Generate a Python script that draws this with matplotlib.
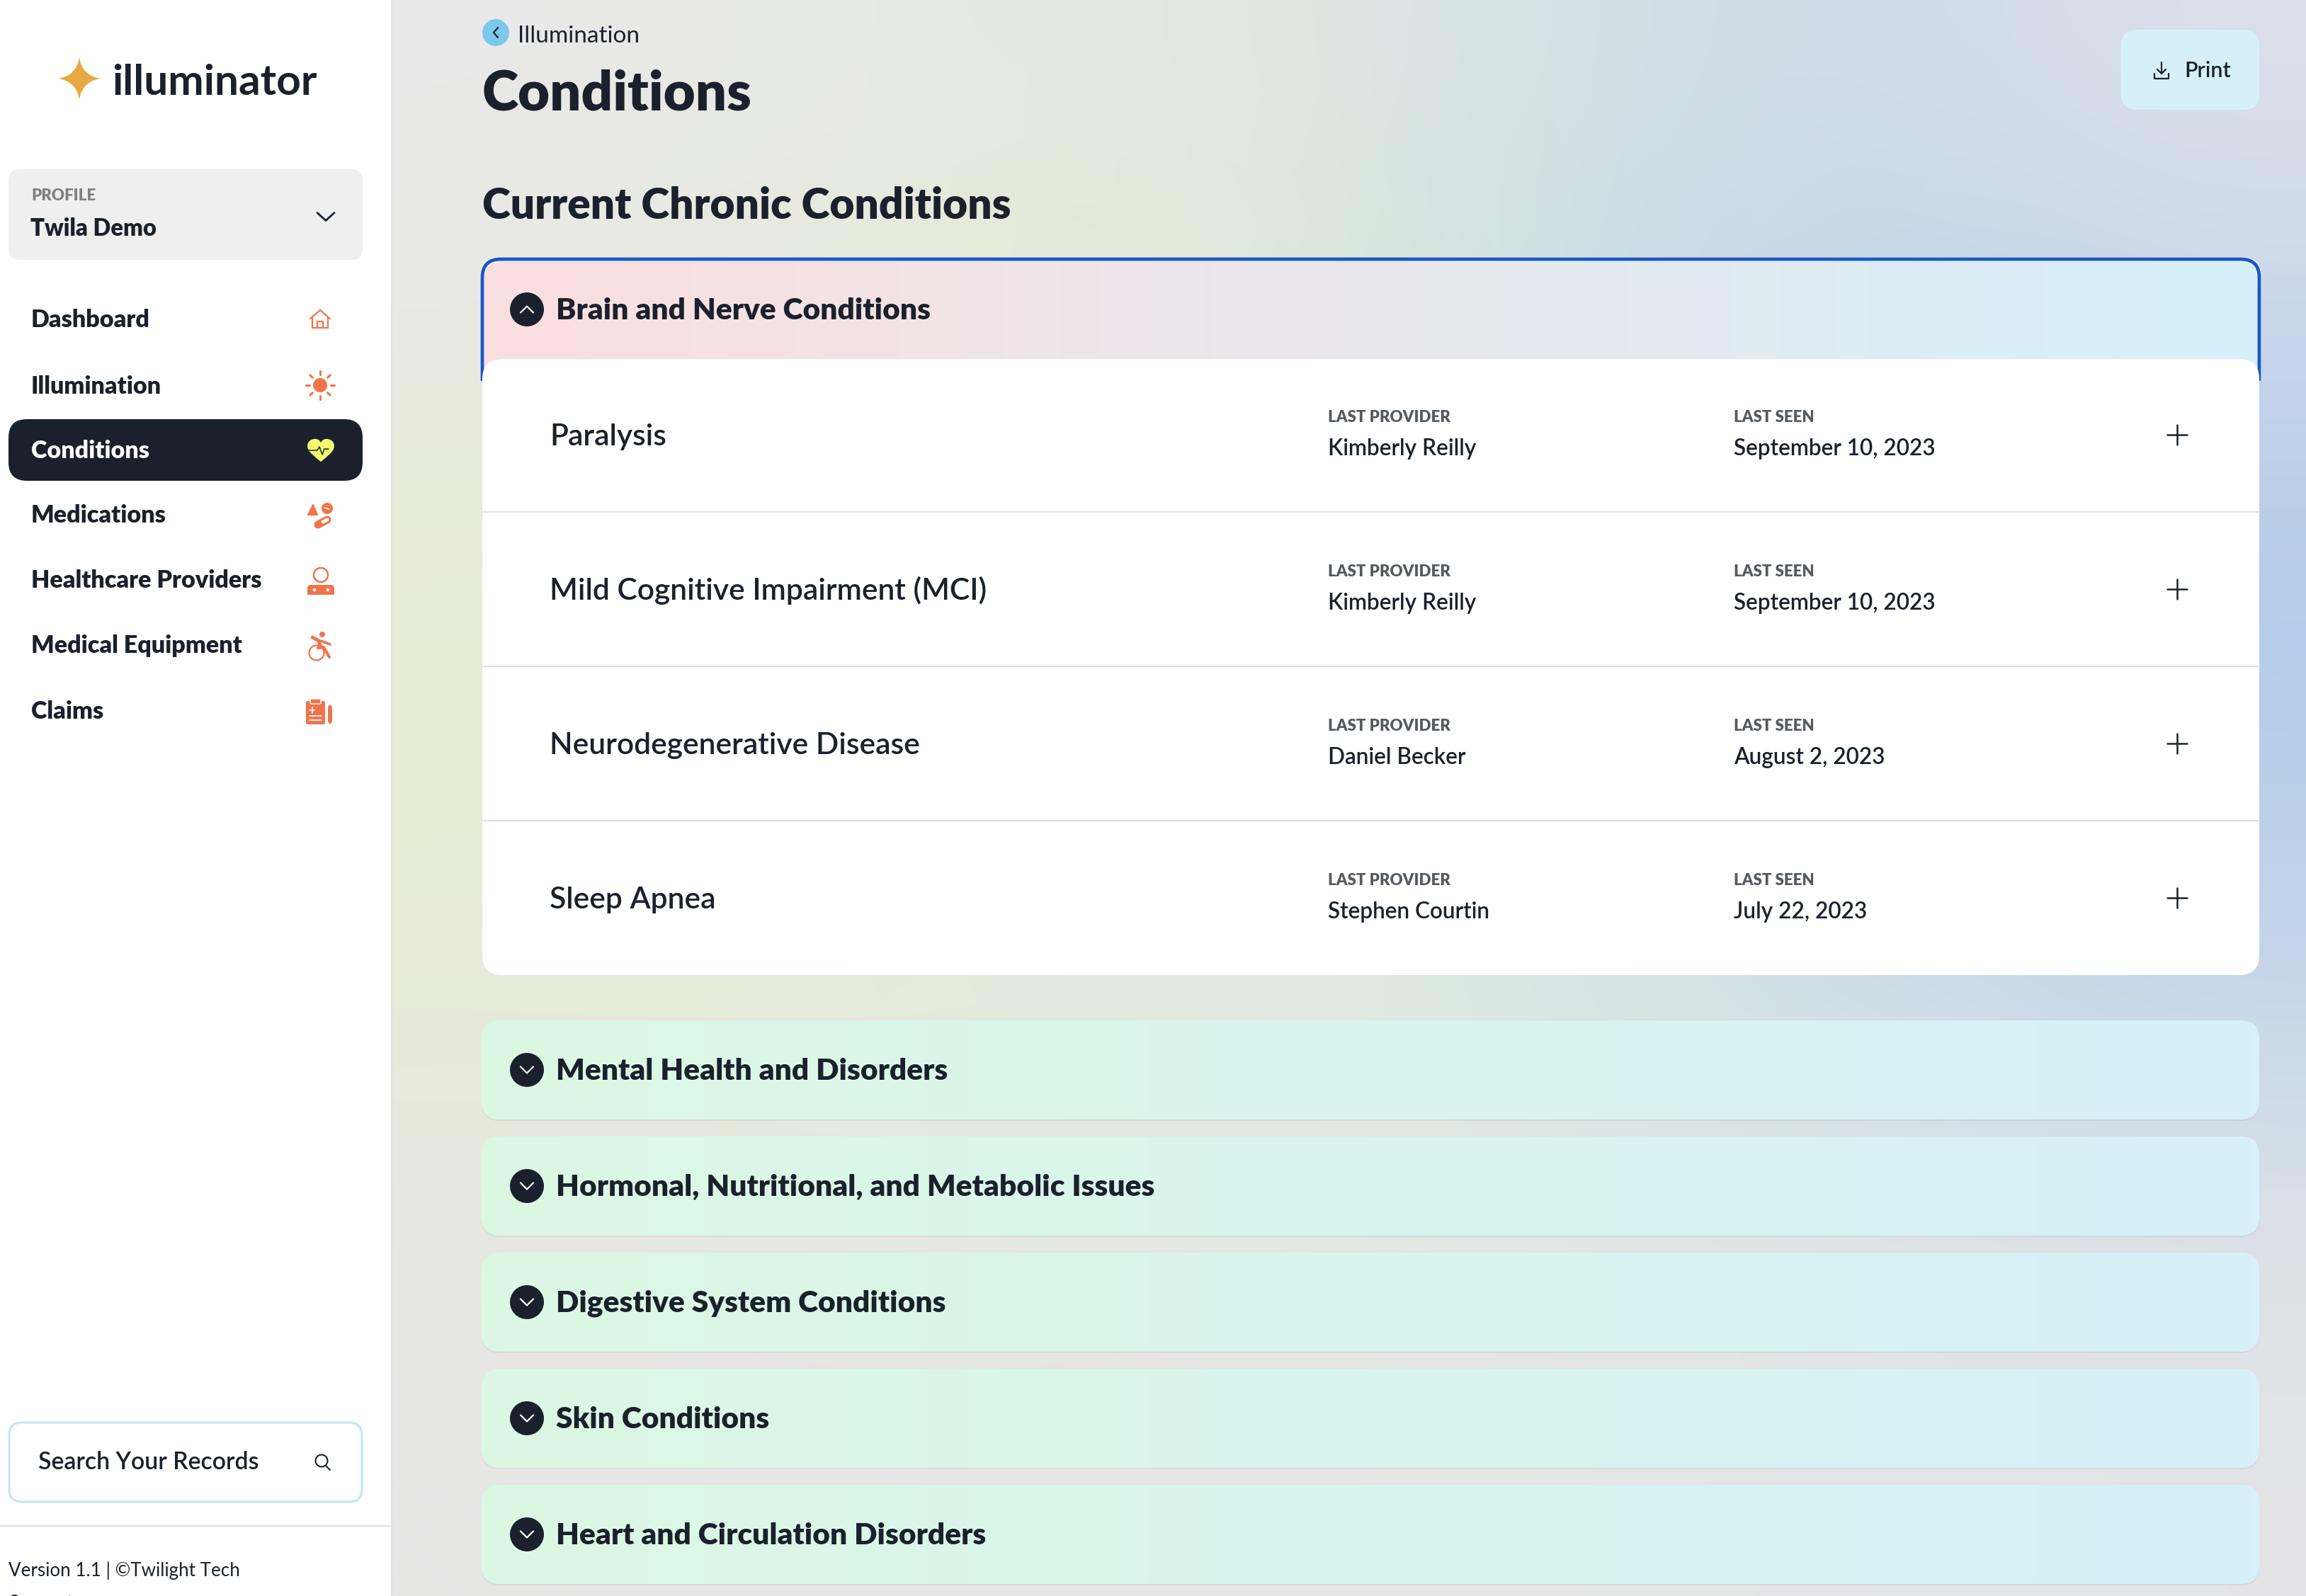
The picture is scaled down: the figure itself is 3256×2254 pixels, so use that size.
import numpy as np
import matplotlib
matplotlib.use('Agg')
import matplotlib.pyplot as plt
from matplotlib.patches import FancyBboxPatch, Circle, Polygon, PathPatch, Rectangle
from matplotlib.path import Path
from matplotlib.colors import to_rgb

plt.rcParams['font.family'] = ['Lato', 'DejaVu Sans']

W, H = 3256, 2254
DARK = '#1a212c'
ORANGE = '#f0744a'

nav_items = ['Dashboard', 'Illumination', 'Conditions', 'Medications',
             'Healthcare Providers', 'Medical Equipment', 'Claims']
nav_baselines = [462, 556, 647, 738, 830, 922, 1015]

conditions = ['Paralysis', 'Mild Cognitive Impairment (MCI)',
              'Neurodegenerative Disease', 'Sleep Apnea']
providers = ['Kimberly Reilly', 'Kimberly Reilly', 'Daniel Becker', 'Stephen Courtin']
last_seen = ['September 10, 2023', 'September 10, 2023', 'August 2, 2023', 'July 22, 2023']

sections = ['Mental Health and Disorders', 'Hormonal, Nutritional, and Metabolic Issues',
            'Digestive System Conditions', 'Skin Conditions',
            'Heart and Circulation Disorders']
section_tops = [1441, 1605, 1769, 1933, 2097]

# page background colours, coarse grid
bg_colors = [
    ['#e9e9e9', '#e8e9e6', '#e5e9df', '#dde6e2', '#d2dfe5', '#d0dce9', '#dbe0ea'],
    ['#e8e9e2', '#e6ead8', '#e6edd0', '#d8e8dc', '#c9dde5', '#bfd3ea', '#c8d6ea'],
    ['#e6ebd5', '#e6edd2', '#e2ecd6', '#d8e8df', '#cadfe6', '#b9d0e9', '#b4cbeb'],
    ['#e6ecd3', '#e6ecd6', '#e2ebdc', '#dbe9e0', '#d0e2e4', '#c0d6e8', '#b8ceea'],
    ['#e7ead9', '#e6eadb', '#e3eadf', '#dfe9e1', '#d9e6e3', '#d0dfe7', '#cad9e9'],
    ['#e6e7e2', '#e6e8e2', '#e5e8e3', '#e3e7e4', '#e1e6e5', '#dfe4e7', '#dde2e7'],
    ['#e6e6e6', '#e6e6e6', '#e6e6e6', '#e6e6e6', '#e5e5e6', '#e4e5e6', '#e4e4e6'],
]


def rgb_grid(rows):
    return np.array([[to_rgb(c) for c in row] for row in rows])


def box(x0, y0, x1, y1, r, **kw):
    return FancyBboxPatch((x0 + r, y0 + r), x1 - x0 - 2 * r, y1 - y0 - 2 * r,
                          boxstyle='round,pad=%d,rounding_size=%d' % (r, r), **kw)


def txt(x, y, s, size, weight='normal', color=DARK, **kw):
    return ax.text(x, y, s, fontsize=size, fontweight=weight, color=color, va='baseline', **kw)


def line(xs, ys, color=DARK, lw=2.0, z=5):
    ax.plot(xs, ys, color=color, lw=lw, zorder=z, solid_capstyle='round', solid_joinstyle='round')


def grad_box(x0, y0, x1, y1, r, c0, c1, z=2):
    p = box(x0, y0, x1, y1, r, fc='none', ec='none', zorder=z)
    ax.add_patch(p)
    ramp = np.linspace(to_rgb(c0), to_rgb(c1), 256)[np.newaxis, :, :]
    im = ax.imshow(ramp, extent=(x0, x1, y1, y0), aspect='auto', zorder=z)
    im.set_clip_path(p)


def chevron(cx, cy, up=False, color='white', w=9, h=9, lw=1.6):
    d = -h if up else h
    line([cx - w, cx, cx + w], [cy - d / 2, cy + d / 2, cy - d / 2], color, lw, 6)


def star(cx, cy, r):
    k = 0.13 * r
    verts = [(cx, cy - r), (cx + k, cy - k), (cx + r, cy), (cx + k, cy + k), (cx, cy + r),
             (cx - k, cy + k), (cx - r, cy), (cx - k, cy - k), (cx, cy - r)]
    codes = [Path.MOVETO] + [Path.CURVE3] * 8
    ax.add_patch(PathPatch(Path(verts, codes), fc='#e8a843', ec='none', zorder=5))


def icon_house(cx, cy):
    line([cx - 14, cx, cx + 14], [cy - 1, cy - 13, cy - 1], ORANGE, 1.6)
    line([cx - 11, cx - 11, cx + 11, cx + 11], [cy - 3, cy + 12, cy + 12, cy - 3], ORANGE, 1.6)
    line([cx - 4, cx - 4, cx + 4, cx + 4], [cy + 12, cy + 3, cy + 3, cy + 12], ORANGE, 1.6)


def icon_sun(cx, cy):
    ax.add_patch(Circle((cx, cy), 10, fc=ORANGE, ec='none', zorder=5))
    for a in np.arange(8) * np.pi / 4:
        line([cx + 15 * np.cos(a), cx + 20 * np.cos(a)],
             [cy + 15 * np.sin(a), cy + 20 * np.sin(a)], ORANGE, 2.2)


def icon_heart(cx, cy):
    sx, sy = 18, 17
    half = [(-0.5, 0.5), (-1.05, 0.1), (-1.05, -0.35), (-1.05, -0.75), (-0.75, -0.95),
            (-0.45, -0.95), (-0.25, -0.95), (-0.1, -0.85), (0, -0.65)]
    other = [(-a, b) for a, b in half[-2::-1]] + [(0, 0.95)]
    pts = [(0, 0.95)] + half + other
    verts = [(cx + a * sx, cy + b * sy) for a, b in pts]
    codes = [Path.MOVETO] + [Path.CURVE4] * (len(pts) - 1)
    ax.add_patch(PathPatch(Path(verts, codes), fc='#f5f96e', ec='none', zorder=5))
    line([cx - 20, cx - 5, cx - 2, cx + 2, cx + 5, cx + 11],
         [cy, cy, cy - 5, cy + 6, cy - 2, cy - 2], DARK, 1.1, 6)


def icon_pills(cx, cy):
    ax.add_patch(Polygon([(cx - 17, cy - 1), (cx - 10, cy - 15), (cx - 4, cy - 1)],
                         fc=ORANGE, ec=ORANGE, lw=1.5, joinstyle='round', zorder=5))
    ax.add_patch(Circle((cx + 10, cy - 10), 8, fc=ORANGE, ec='none', zorder=5))
    line([cx + 6, cx + 13], [cy - 11, cy - 9], 'white', 1.2, 6)
    line([cx - 3, cx + 10], [cy + 13, cy + 6], ORANGE, 8)
    line([cx + 4, cx + 10], [cy + 9, cy + 6], 'white', 3.5, 6)


def icon_doctor(cx, cy):
    ax.add_patch(Circle((cx + 1, cy - 8), 10, fc='white', ec=ORANGE, lw=1.8, zorder=5))
    ax.add_patch(box(cx - 18, cy + 6, cx + 20, cy + 20, 5, fc=ORANGE, ec='none', zorder=5))
    ax.add_patch(Rectangle((cx - 18, cy + 14), 38, 6, fc=ORANGE, ec='none', zorder=5))
    ax.add_patch(Circle((cx - 8, cy + 13), 2.2, fc='white', ec='none', zorder=6))
    ax.add_patch(Circle((cx + 11, cy + 13), 2.2, fc='white', ec='none', zorder=6))


def icon_wheelchair(cx, cy):
    ax.add_patch(Circle((cx - 5, cy + 10), 10.5, fc='none', ec=ORANGE, lw=1.6, zorder=5))
    ax.add_patch(Circle((cx + 3, cy - 16), 4, fc=ORANGE, ec='none', zorder=5))
    line([cx - 11, cx - 2, cx + 1], [cy - 12, cy - 7, cy + 2], ORANGE, 3.5)
    line([cx + 1, cx + 14], [cy - 7, cy - 2], ORANGE, 2.5)
    line([cx - 3, cx + 5, cx + 13], [cy + 3, cy + 2, cy + 16], ORANGE, 3)


def icon_clipboard(cx, cy):
    ax.add_patch(box(cx - 20, cy - 16, cx + 7, cy + 17, 3, fc=ORANGE, ec='none', zorder=5))
    ax.add_patch(box(cx - 14, cy - 19, cx + 1, cy - 12, 2, fc=ORANGE, ec='white', lw=1, zorder=6))
    line([cx - 15, cx - 8], [cy - 3, cy - 3], 'white', 1.2, 6)
    line([cx - 11.5, cx - 11.5], [cy - 7, cy + 1], 'white', 1.2, 6)
    line([cx - 15, cx + 2], [cy + 5, cy + 5], 'white', 1.2, 6)
    line([cx - 15, cx + 2], [cy + 11, cy + 11], 'white', 1.2, 6)
    ax.add_patch(Polygon([(cx + 11, cy - 5), (cx + 17, cy - 5), (cx + 17, cy + 13),
                          (cx + 14, cy + 17), (cx + 11, cy + 13)], fc=ORANGE, ec='none', zorder=5))
    ax.add_patch(Circle((cx + 14, cy - 7), 3, fc=ORANGE, ec='none', zorder=5))


fig = plt.figure(figsize=(W / 100, H / 100), dpi=100)
ax = fig.add_axes([0, 0, 1, 1])

# background
ax.imshow(rgb_grid(bg_colors), extent=(552, W, H, 0), aspect='auto',
          interpolation='bicubic', zorder=0)

# sidebar
ax.add_patch(Rectangle((0, 0), 552, H, fc='white', ec='none', zorder=1))
ax.plot([553, 553], [0, H], color='#dedede', lw=1.5, zorder=1, alpha=0.6)
star(112, 111, 30)
txt(158, 134, 'illuminator', 43.5, 'bold')

ax.add_patch(box(12, 239, 512, 367, 16, fc='#efefef', ec='none', zorder=2))
txt(44, 283, 'PROFILE', 16, 'heavy', '#808080')
txt(43, 333, 'Twila Demo', 23.6, 'heavy')
chevron(460, 306, color=DARK, w=12, h=11, lw=2)

ax.add_patch(box(12, 592, 512, 679, 26, fc=DARK, ec='none', zorder=2))
for name, base in zip(nav_items, nav_baselines):
    txt(44, base, name, 24.6, 'heavy', 'white' if name == 'Conditions' else DARK, zorder=4)
icon_house(452, 451)
icon_sun(452, 544)
icon_heart(453, 636)
icon_pills(452, 728)
icon_doctor(452, 820)
icon_wheelchair(452, 912)
icon_clipboard(452, 1006)

ax.add_patch(box(13, 2009, 511, 2121, 18, fc='white', ec='#c0e6f5', lw=2.2, zorder=2))
txt(54, 2075, 'Search Your Records', 24.4, 'semibold', zorder=4)
ax.add_patch(Circle((454, 2063), 8.5, fc='none', ec=DARK, lw=1.5, zorder=5))
line([460, 466], [2070, 2076], DARK, 1.5)
ax.plot([0, 552], [2155, 2155], color='#e0e0e0', lw=1.5, zorder=2)
txt(12, 2226, 'Version 1.1 | ©Twilight Tech', 18.7)
txt(12, 2272, 'Support', 18.7)

# page head
ax.add_patch(Circle((700, 46), 19, fc='#7cc8ec', ec='none', zorder=3))
line([703, 697, 703], [39, 46, 53], DARK, 1.6)
txt(731, 60, 'Illumination', 24)
txt(681, 156, 'Conditions', 56, 'heavy')
txt(681, 309, 'Current Chronic Conditions', 43.6, 'heavy')

ax.add_patch(box(2995, 42, 3190, 155, 22, fc='#d6f0fa', ec='none', zorder=2))
line([3052, 3052], [88, 104], DARK, 1.6)
line([3046, 3052, 3058], [98, 104, 98], DARK, 1.6)
line([3042, 3042, 3062, 3062], [104, 111, 111, 104], DARK, 1.6)
txt(3084, 109, 'Print', 22, 'semibold')

# open card, blue outline stops just below the top of the white body
clip = Rectangle((600, 340), 2700, 198, transform=ax.transData)
halo = box(678, 363, 3193, 620, 28, fc='white', ec='none', zorder=2)
ax.add_patch(halo)
halo.set_clip_path(clip)
edge = box(681, 366, 3190, 620, 26, fc='none', ec='#1a56c4', lw=3.5, zorder=3)
ax.add_patch(edge)
edge.set_clip_path(clip)
grad_box(684, 369, 3187, 560, 24, '#fbdfe0', '#d6f0fa', z=2.5)
ax.add_patch(box(681, 507, 3190, 1377, 28, fc='white', ec='none', zorder=4))
ax.add_patch(Circle((744, 437), 24, fc=DARK, ec='none', zorder=5))
chevron(744, 437, up=True)
txt(785, 451, 'Brain and Nerve Conditions', 30.6, 'heavy', zorder=5)

row_h = 218
for i in range(len(conditions)):
    cy = 614 + i * row_h
    if i:
        ax.plot([681, 3190], [cy - row_h / 2, cy - row_h / 2], color='#e0e0e0', lw=1.5, zorder=5)
    txt(776, cy + 15, conditions[i], 30.6, 'semibold', zorder=6)
    txt(1875, cy - 18, 'LAST PROVIDER', 16, 'heavy', '#555a60', zorder=6)
    txt(1875, cy + 29, providers[i], 22.7, 'semibold', zorder=6)
    txt(2448, cy - 18, 'LAST SEEN', 16, 'heavy', '#555a60', zorder=6)
    txt(2448, cy + 29, last_seen[i], 22.7, 'semibold', zorder=6)
    line([3060, 3088], [cy, cy], DARK, 1.8)
    line([3074, 3074], [cy - 14, cy + 14], DARK, 1.8)

# closed sections
for name, top in zip(sections, section_tops):
    bottom = top + 140
    ax.add_patch(box(680, top + 2, 3190, bottom + 2, 26, fc='#000000', ec='none', alpha=0.05, zorder=1.5))
    grad_box(680, top, 3190, bottom, 26, '#dcf8e3', '#d7f0f9')
    cy = top + 70
    ax.add_patch(Circle((744, cy), 24, fc=DARK, ec='none', zorder=5))
    chevron(744, cy)
    txt(785, cy + 14, name, 30.6, 'heavy', zorder=5)

ax.set_xlim(0, W)
ax.set_ylim(H, 0)
ax.axis('off')
fig.savefig('out.png', dpi=100)
